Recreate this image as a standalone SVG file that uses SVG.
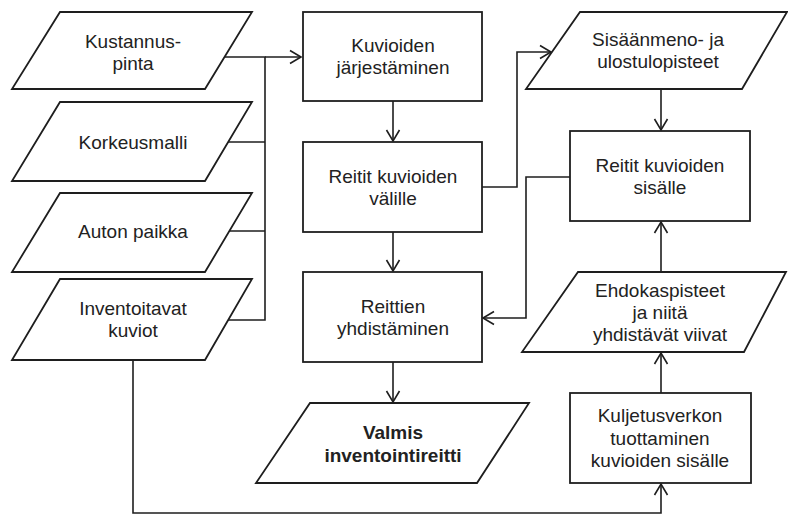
<svg xmlns="http://www.w3.org/2000/svg" width="788" height="515" viewBox="0 0 788 515">
<style>
.n{fill:#fff;stroke:#1e1e1e;stroke-width:1.8}
.c{fill:none;stroke:#1e1e1e;stroke-width:1.6}
text{font-family:"Liberation Sans",Arial,sans-serif;font-size:19px;fill:#222;text-anchor:middle}
.b{font-weight:bold}
</style>
<defs>
<marker id="a" markerUnits="userSpaceOnUse" markerWidth="14" markerHeight="16" viewBox="0 0 14 16" refX="12" refY="8" orient="auto">
<path d="M1,1.5 L12,8 L1,14.5" fill="none" stroke="#1e1e1e" stroke-width="1.6"/>
</marker>
</defs>
<g id="connectors">
<path class="c" d="M224,57 H265 V320 H222"/>
<path class="c" d="M265,57 H301" marker-end="url(#a)"/>
<path class="c" d="M226,142 H265"/>
<path class="c" d="M226,231 H265"/>
<path class="c" d="M393,101 V141" marker-end="url(#a)"/>
<path class="c" d="M393,232 V271" marker-end="url(#a)"/>
<path class="c" d="M393,362 V402" marker-end="url(#a)"/>
<path class="c" d="M482,187 H517 V52 H551" marker-end="url(#a)"/>
<path class="c" d="M661,89 V130" marker-end="url(#a)"/>
<path class="c" d="M570,177 H526 V318 H483" marker-end="url(#a)"/>
<path class="c" d="M661,272 V222" marker-end="url(#a)"/>
<path class="c" d="M661,393 V353" marker-end="url(#a)"/>
<path class="c" d="M133,360 V513 H661 V484" marker-end="url(#a)"/>
</g>
<g id="kustannuspinta">
<polygon class="n" points="60,12 252,12 205,89 12,89"/>
<text x="133" y="48">Kustannus-</text>
<text x="133" y="70">pinta</text>
</g>
<g id="korkeusmalli">
<polygon class="n" points="60,102 252,102 205,181 12,181"/>
<text x="133" y="148.5">Korkeusmalli</text>
</g>
<g id="autonpaikka">
<polygon class="n" points="60,193 252,193 205,272 12,272"/>
<text x="133" y="238">Auton paikka</text>
</g>
<g id="inventoitavat">
<polygon class="n" points="60,279 252,279 205,360 12,360"/>
<text x="133" y="315">Inventoitavat</text>
<text x="133" y="337">kuviot</text>
</g>
<g id="jarjestaminen">
<rect class="n" x="303" y="12" width="179" height="89"/>
<text x="393" y="52">Kuvioiden</text>
<text x="393" y="74">järjestäminen</text>
</g>
<g id="reititvalille">
<rect class="n" x="303" y="142" width="179" height="90"/>
<text x="393" y="182.5">Reitit kuvioiden</text>
<text x="393" y="204.5">välille</text>
</g>
<g id="yhdistaminen">
<rect class="n" x="303" y="272" width="179" height="90"/>
<text x="393" y="312.5">Reittien</text>
<text x="393" y="334.5">yhdistäminen</text>
</g>
<g id="valmis">
<polygon class="n" points="310,403 529,403 477,483 256,483"/>
<text class="b" x="393" y="439">Valmis</text>
<text class="b" x="393" y="462">inventointireitti</text>
</g>
<g id="sisaanmeno">
<polygon class="n" points="580,12 787,12 742,89 526,89"/>
<text x="658" y="46">Sisäänmeno- ja</text>
<text x="658" y="68">ulostulopisteet</text>
</g>
<g id="reititsisalle">
<rect class="n" x="570" y="131" width="180" height="90"/>
<text x="660" y="171.5">Reitit kuvioiden</text>
<text x="660" y="193.5">sisälle</text>
</g>
<g id="ehdokaspisteet">
<polygon class="n" points="578,272 786,272 744,352 522,352"/>
<text x="660" y="297">Ehdokaspisteet</text>
<text x="660" y="319">ja niitä</text>
<text x="660" y="341">yhdistävät viivat</text>
</g>
<g id="kuljetusverkko">
<rect class="n" x="570" y="393" width="181" height="90"/>
<text x="660" y="422">Kuljetusverkon</text>
<text x="660" y="444.5">tuottaminen</text>
<text x="660" y="467">kuvioiden sisälle</text>
</g>
</svg>
